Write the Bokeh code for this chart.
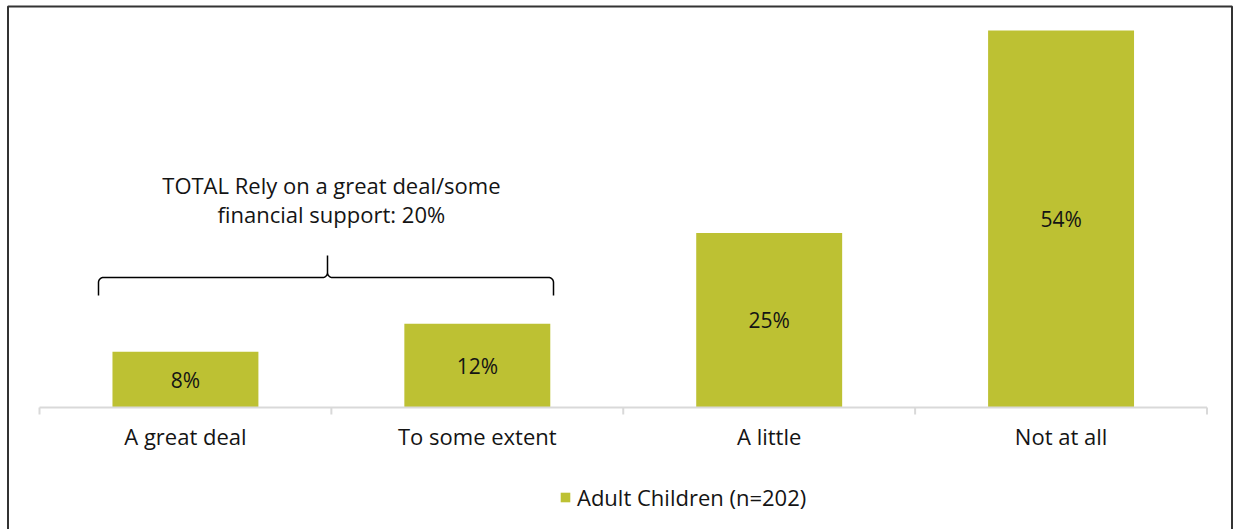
import numpy as np
from bokeh.plotting import figure
from bokeh.models import Range1d, Legend, LegendItem, ColumnDataSource
from bokeh.core.properties import value
from bokeh.embed import file_html
from bokeh.resources import INLINE

categories = ["A great deal", "To some extent", "A little", "Not at all"]
values = [8, 12, 25, 54]
value_labels = ["8%", "12%", "25%", "54%"]
series_name = "Adult Children (n=202)"
note_lines = ["TOTAL Rely on a great deal/some", "financial support: 20%"]

FONT = "Open Sans"
BAR = "#BDC133"
TXT = "#141414"

W, H = 1233, 529
# canvas geometry in pixels
AX_L, AX_R, BASE, TOP54 = 39, 1206.5, 407, 30
sx = (AX_R - AX_L) / len(categories)          # px per category unit
sy = (BASE - TOP54) / 54.0                    # px per percent


def dx(px):
    return (px - AX_L) / sx


def dy(py):
    return (BASE - py) / sy


p = figure(width=W, height=H,
           x_range=Range1d(dx(0), dx(W)), y_range=Range1d(dy(H), dy(0)),
           x_axis_type=None, y_axis_type=None, output_backend="svg", toolbar_location=None,
           min_border=0)
p.outline_line_color = None
p.background_fill_color = "white"

xs = [i + 0.5 for i in range(len(categories))]
src = ColumnDataSource(dict(x=xs, top=values, mid=[v / 2 for v in values], lab=value_labels))

bars = p.vbar(x="x", top="top", width=0.5, source=src, fill_color=BAR, line_color=None)
p.text(x="x", y="mid", text="lab", source=src, text_align="center", text_baseline="middle",
       text_font=value(FONT), text_font_size="21px", text_color=TXT)

# category axis: line, boundary ticks, labels
edges = list(range(len(categories) + 1))
p.segment(x0=[0], y0=[0], x1=[len(categories)], y1=[0], line_color="#d9d9d9", line_width=2)
p.segment(x0=edges, y0=[0] * len(edges), x1=edges, y1=[dy(BASE + 7)] * len(edges),
          line_color="#d9d9d9", line_width=2)
p.text(x=xs, y=[dy(435.5)] * len(xs), text=categories, text_align="center", text_baseline="middle",
       text_font=value(FONT), text_font_size="22px", text_color=TXT)

# outer frame (left, top, right)
bx0, bx1, by0 = dx(7.5), dx(1231.5), dy(6)
p.line([bx0, bx0, bx1, bx1], [dy(H + 5), by0, by0, dy(H + 5)],
       line_color="#333333", line_width=2)

# annotation text
p.text(x=[1.0, 1.0], y=[dy(184), dy(213)], text=note_lines, text_align="center",
       text_baseline="middle", text_font=value(FONT), text_font_size="22px", text_color=TXT)


# brace
def arc(cx, cy, r, a0, a1, n=10):
    a = np.radians(np.linspace(a0, a1, n))
    return list(cx + r * np.cos(a)), list(cy - r * np.sin(a))


xl, xr, xm = 98, 553, 327
yb, ye, yp, r = 277, 295, 255, 5
bx, by = [xl], [ye]
for (cx, cy, a0, a1) in [(xl + r, yb + r, 180, 90), (xm - r, yb - r, -90, 0)]:
    ax_, ay_ = arc(cx, cy, r, a0, a1)
    bx += ax_
    by += ay_
bx += [xm, xm]
by += [yp, yb - r]
for (cx, cy, a0, a1) in [(xm + r, yb - r, 180, 270), (xr - r, yb + r, 90, 0)]:
    ax_, ay_ = arc(cx, cy, r, a0, a1)
    bx += ax_
    by += ay_
bx += [xr]
by += [ye]
p.line([dx(x) for x in bx], [dy(y) for y in by], line_color="#000000", line_width=1.5)

legend = Legend(items=[LegendItem(label=series_name, renderers=[bars])], orientation="horizontal",
                location=(559, 9 + (H - 521)), border_line_color=None, background_fill_alpha=0,
                glyph_width=12, glyph_height=12, label_text_font=FONT,
                label_text_font_size="22px", label_text_color=TXT, label_height=22,
                label_standoff=6, padding=0, margin=0, spacing=0)
p.add_layout(legend)

open("out.html", "w").write(file_html(p, INLINE))
